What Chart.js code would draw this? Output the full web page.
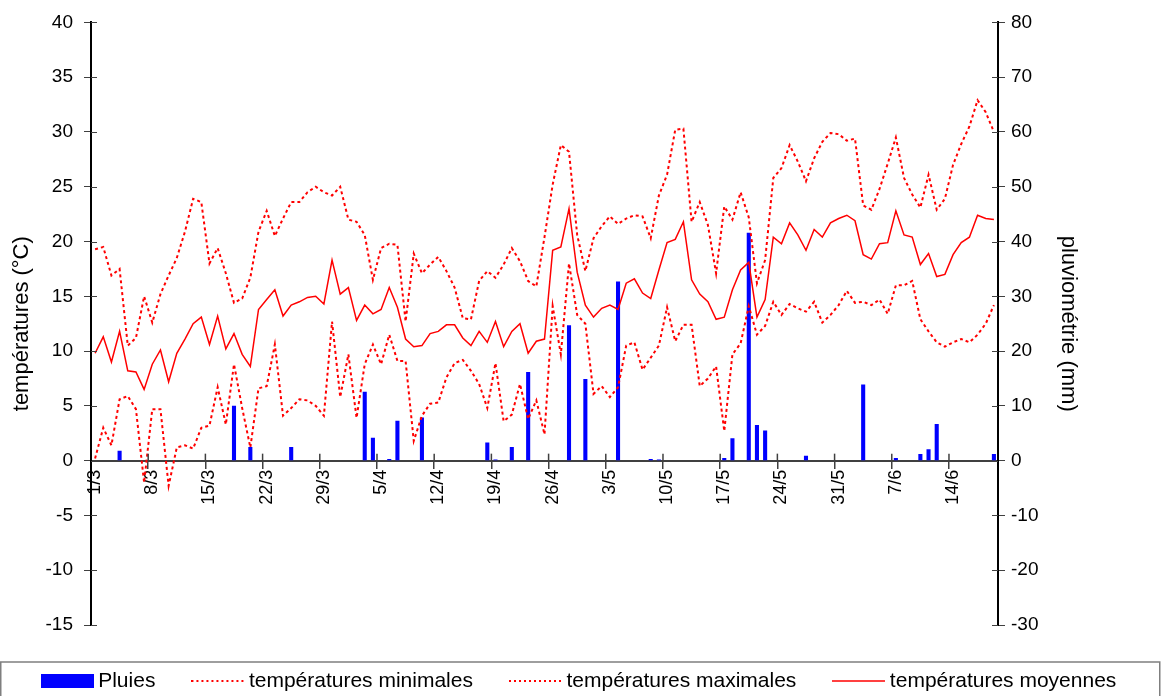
<!DOCTYPE html>
<html>
<head>
<meta charset="utf-8">
<title>Températures et pluies</title>
<script src="https://cdn.jsdelivr.net/npm/chart.js@4.4.0/dist/chart.umd.min.js"></script>
<style>
  html, body { margin: 0; padding: 0; background: #fff; }
</style>
</head>
<body>
<canvas id="meteo" width="1163" height="696"></canvas>
<script>
// days from 1/3 to 19/6
var months = [[3, 31], [4, 30], [5, 31], [6, 19]];
var days = [];
months.forEach(function (m) {
    for (var d = 1; d <= m[1]; d++) {
        days.push(d + '/' + m[0]);
    }
});

// rain (mm), only the rainy days, by day index
var rainDays = [3, 17, 19, 24, 33, 34, 36, 37, 40, 48, 49, 51, 53, 58, 60, 64, 68, 69,
    77, 78, 80, 81, 82, 87, 94, 98, 101, 102, 103, 110];
var rainMm = [1.8, 10, 2.5, 2.5, 12.6, 4.2, 0.3, 7.3, 7.9, 3.3, 0.2, 2.5, 16.2, 24.7, 14.9, 32.7, 0.3, 0.2,
    0.5, 4.1, 41.6, 6.5, 5.5, 0.9, 13.9, 0.5, 1.2, 2.1, 6.7, 1.2];

var tMin = [0.2, 3.0, 1.4, 5.6, 5.9, 4.7, -2.0, 4.7, 4.7, -2.3,
    1.2, 1.4, 1.1, 3.0, 3.2, 6.7, 3.3, 8.8, 4.8, 1.2,
    6.6, 6.8, 10.6, 4.1, 4.8, 5.6, 5.5, 5.0, 4.1, 12.7,
    5.8, 9.7, 3.9, 8.8, 10.6, 8.8, 11.5, 9.1, 9.1, 1.8,
    4.1, 5.2, 5.3, 7.6, 8.9, 9.2, 8.2, 7.0, 4.8, 8.9,
    3.6, 4.2, 7.0, 3.8, 5.5, 2.4, 14.1, 9.7, 18.0, 13.3,
    12.5, 6.1, 6.8, 5.8, 6.7, 10.5, 10.8, 8.3, 9.4, 10.5,
    14.0, 10.9, 12.4, 12.4, 6.8, 7.5, 8.6, 2.7, 9.7, 10.7,
    14.1, 11.5, 12.3, 14.5, 13.3, 14.3, 13.9, 13.6, 14.5, 12.6,
    13.3, 14.2, 15.5, 14.4, 14.5, 14.2, 14.7, 13.4, 16.0, 16.0,
    16.4, 12.9, 11.8, 10.8, 10.4, 10.8, 11.1, 10.8, 11.5, 12.5,
    14.2];

var tMax = [19.3, 19.5, 16.9, 17.5, 10.5, 11.2, 15.0, 12.6, 15.2, 16.9,
    18.5, 20.9, 23.9, 23.6, 18.0, 19.4, 17.1, 14.4, 14.8, 16.7,
    20.9, 22.8, 20.5, 22.1, 23.6, 23.6, 24.5, 25.0, 24.5, 24.2,
    25.0, 22.0, 21.8, 20.6, 16.5, 19.4, 19.8, 19.7, 12.7, 18.9,
    17.1, 17.9, 18.6, 17.3, 15.8, 13.0, 12.9, 16.4, 17.3, 16.7,
    17.9, 19.4, 18.2, 16.4, 15.9, 20.4, 25.2, 28.8, 28.2, 20.6,
    17.3, 20.3, 21.4, 22.3, 21.6, 22.1, 22.4, 22.3, 20.3, 24.2,
    26.1, 30.2, 30.3, 21.8, 23.6, 21.5, 17.1, 23.2, 22.0, 24.5,
    22.2, 16.2, 18.3, 25.8, 26.7, 28.8, 27.3, 25.5, 27.6, 29.1,
    29.9, 29.8, 29.2, 29.4, 23.3, 22.9, 24.8, 27.1, 29.5, 25.8,
    24.3, 23.1, 26.1, 22.9, 23.9, 27.0, 28.9, 30.5, 32.9, 31.8,
    30.0];

var tMoy = [9.8, 11.3, 9.0, 11.8, 8.2, 8.1, 6.5, 8.8, 10.1, 7.2,
    9.8, 11.1, 12.5, 13.1, 10.6, 13.2, 10.2, 11.6, 9.7, 8.6,
    13.8, 14.7, 15.6, 13.2, 14.2, 14.5, 14.9, 15.0, 14.3, 18.3,
    15.2, 15.8, 12.8, 14.2, 13.4, 13.8, 15.8, 14.0, 11.1, 10.4,
    10.5, 11.6, 11.8, 12.4, 12.4, 11.2, 10.5, 11.8, 10.8, 12.7,
    10.4, 11.8, 12.5, 9.8, 10.9, 11.1, 19.2, 19.5, 23.0, 17.2,
    14.2, 13.1, 13.9, 14.2, 13.8, 16.2, 16.6, 15.3, 14.8, 17.4,
    19.9, 20.2, 21.8, 16.5, 15.2, 14.5, 12.9, 13.1, 15.6, 17.4,
    18.1, 13.1, 14.7, 20.4, 19.8, 21.7, 20.6, 19.2, 21.1, 20.4,
    21.7, 22.1, 22.4, 21.9, 18.8, 18.4, 19.8, 19.9, 22.8, 20.6,
    20.4, 17.9, 18.9, 16.8, 17.0, 18.8, 19.9, 20.4, 22.4, 22.1,
    22.0];

var pluies = days.map(function (d, i) {
    var k = rainDays.indexOf(i);
    return k >= 0 ? rainMm[k] : null;
});

// little pictures used as legend symbols
function swatch(kind) {
    var c = document.createElement('canvas');
    c.width = 53;
    c.height = 14;
    var g = c.getContext('2d');
    if (kind === 'rect') {
        g.fillStyle = '#0000ff';
        g.fillRect(0, 0, 53, 14);
    } else {
        g.strokeStyle = '#ff0000';
        g.lineWidth = kind === 'dot' ? 2 : 1.5;
        if (kind === 'dot') g.setLineDash([2, 3]);
        g.beginPath();
        g.moveTo(0, 7);
        g.lineTo(53, 7);
        g.stroke();
    }
    return c;
}

var legendFrame = {
    id: 'legendFrame',
    afterDraw: function (chart) {
        var lg = chart.legend;
        if (!lg || !lg.legendHitBoxes || !lg.legendHitBoxes.length) return;
        var hb = lg.legendHitBoxes[0];
        var mid = hb.top + hb.height / 2;
        var ctx = chart.ctx;
        ctx.save();
        ctx.strokeStyle = '#7f7f7f';
        ctx.lineWidth = 1.5;
        ctx.strokeRect(lg.left + 0.75, mid - 19, lg.right - lg.left - 4, 60);
        ctx.restore();
    }
};

// tick marks on the inner side of the axes, like the original
var innerTicks = {
    id: 'innerTicks',
    afterDraw: function (chart) {
        var c = chart.ctx;
        var a = chart.chartArea;
        c.save();
        c.strokeStyle = '#404040';
        c.lineWidth = 1;
        ['y', 'y1'].forEach(function (id) {
            var s = chart.scales[id];
            s.ticks.forEach(function (t) {
                var py = Math.round(s.getPixelForValue(t.value)) + 0.5;
                c.beginPath();
                if (id === 'y') {
                    c.moveTo(a.left, py);
                    c.lineTo(a.left + 6, py);
                } else {
                    c.moveTo(a.right, py);
                    c.lineTo(a.right - 6, py);
                }
                c.stroke();
            });
        });
        var x = chart.scales.x;
        var y0 = chart.scales.y.getPixelForValue(0);
        var half = (x.getPixelForValue(1) - x.getPixelForValue(0)) / 2;
        c.lineWidth = 1.5;
        for (var i = 7; i < days.length; i += 7) {
            var px = x.getPixelForValue(i) - half;
            c.beginPath();
            c.moveTo(px, y0);
            c.lineTo(px, y0 - 7);
            c.stroke();
        }
        c.restore();
    }
};

Chart.defaults.font.family = '"Liberation Sans", Arial, sans-serif';
Chart.defaults.color = '#000';

var ctx = document.getElementById('meteo').getContext('2d');
var chart = new Chart(ctx, {
    type: 'bar',
    data: {
        labels: days,
        datasets: [{
            type: 'bar',
            label: 'Pluies',
            data: pluies,
            yAxisID: 'y1',
            backgroundColor: '#0000ff',
            borderWidth: 0,
            barPercentage: 0.5,
            categoryPercentage: 1,
            pointStyle: swatch('rect'),
            order: 10
        }, {
            type: 'line',
            label: 'températures minimales',
            data: tMin,
            yAxisID: 'y',
            borderColor: '#ff0000',
            backgroundColor: '#ff0000',
            borderWidth: 2,
            borderDash: [3, 3],
            pointRadius: 0,
            tension: 0,
            pointStyle: swatch('dot'),
            order: 1
        }, {
            type: 'line',
            label: 'températures maximales',
            data: tMax,
            yAxisID: 'y',
            borderColor: '#ff0000',
            backgroundColor: '#ff0000',
            borderWidth: 2,
            borderDash: [3, 3],
            pointRadius: 0,
            tension: 0,
            pointStyle: swatch('dot'),
            order: 2
        }, {
            type: 'line',
            label: 'températures moyennes',
            data: tMoy,
            yAxisID: 'y',
            borderColor: '#ff0000',
            backgroundColor: '#ff0000',
            borderWidth: 1.5,
            pointRadius: 0,
            tension: 0,
            pointStyle: swatch('line'),
            order: 0
        }]
    },
    options: {
        responsive: false,
        animation: false,
        layout: {
            padding: { top: 20, bottom: -5.5, left: 0, right: 0 }
        },
        plugins: {
            tooltip: { enabled: false },
            legend: {
                position: 'bottom',
                title: {
                    display: true,
                    text: '',
                    font: { size: 1 },
                    padding: { top: 2.3, bottom: 0 }
                },
                labels: {
                    usePointStyle: true,
                    pointStyleWidth: 41,
                    boxHeight: 14,
                    padding: 42,
                    color: '#000',
                    font: { size: 21 },
                    sort: function (a, b) { return a.datasetIndex - b.datasetIndex; }
                }
            }
        },
        scales: {
            x: {
                position: { y: 0 },
                offset: true,
                grid: {
                    offset: true,
                    drawOnChartArea: false,
                    tickLength: 7,
                    lineWidth: 1.5,
                    color: function (c) {
                        return c.index % 7 === 0 ? '#404040' : 'rgba(0,0,0,0)';
                    }
                },
                border: { color: '#404040', width: 2 },
                ticks: {
                    autoSkip: false,
                    minRotation: 90,
                    maxRotation: 90,
                    padding: 2,
                    font: { size: 18 },
                    callback: function (v, i) {
                        return i % 7 === 0 ? days[i] : '';
                    }
                }
            },
            y: {
                position: 'left',
                min: -15,
                max: 40,
                ticks: { stepSize: 5, padding: 11, font: { size: 19 } },
                grid: { drawOnChartArea: false, tickLength: 7, color: '#404040' },
                border: { color: '#000', width: 2 },
                title: {
                    display: true,
                    text: 'températures (°C)',
                    font: { size: 22 },
                    padding: { top: 9, bottom: 0 }
                },
                afterFit: function (s) { s.width = 91; }
            },
            y1: {
                position: 'right',
                min: -30,
                max: 80,
                ticks: { stepSize: 10, padding: 6, font: { size: 19 } },
                grid: { drawOnChartArea: false, tickLength: 7, color: '#404040' },
                border: { color: '#000', width: 2 },
                title: {
                    display: true,
                    text: 'pluviométrie (mm)',
                    font: { size: 22 },
                    padding: { top: 82, bottom: 0 }
                },
                afterFit: function (s) { s.width = 165; }
            }
        }
    },
    plugins: [legendFrame, innerTicks]
});
</script>
</body>
</html>
